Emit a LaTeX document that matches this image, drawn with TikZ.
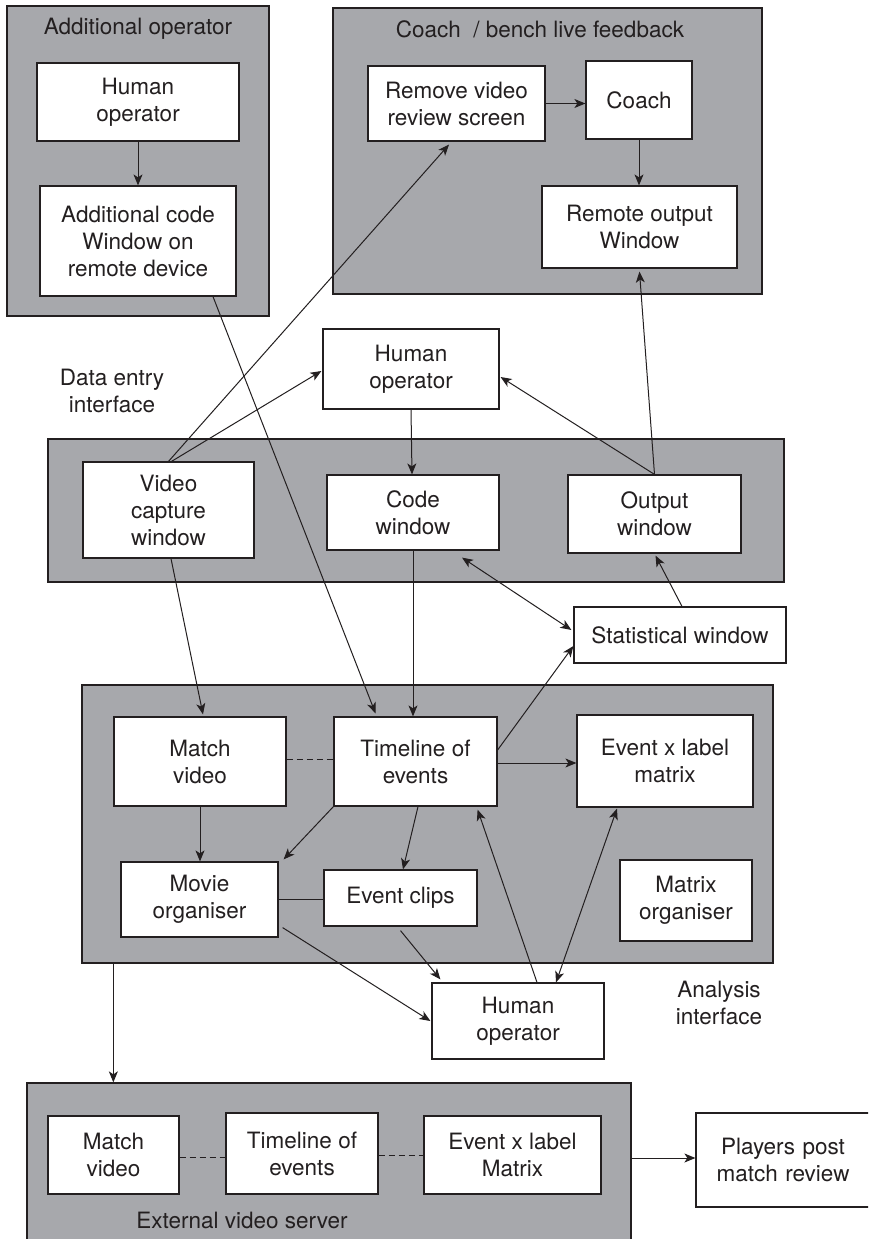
\documentclass[tikz,border=0pt]{standalone}
\usepackage{fontspec}
\setmainfont{TeX Gyre Heros}
\usetikzlibrary{arrows.meta,calc}
\definecolor{ink}{HTML}{231F20}
\definecolor{panelgray}{HTML}{A7A8AC}
\tikzset{
  panel/.style={draw=ink, fill=panelgray, line width=1.3pt, inner sep=0pt, rectangle},
  box/.style={draw=ink, fill=white, line width=1.2pt, inner sep=0pt, rectangle, align=center,
    text=ink, font=\fontsize{22.5}{27}\selectfont},
  lbl/.style={text=ink, align=center, inner sep=0pt, font=\fontsize{22.5}{27}\selectfont},
  conn/.style={draw=ink, line width=1pt},
  arr/.style={conn, -{Stealth[length=11pt,width=9pt,inset=3pt]}},
  darr/.style={conn, {Stealth[length=11pt,width=9pt,inset=3pt]}-{Stealth[length=11pt,width=9pt,inset=3pt]}},
  dashline/.style={conn, dash pattern=on 6pt off 4pt}
}
\begin{document}
\begin{tikzpicture}[x=1pt,y=-1pt]
\useasboundingbox (0,0) rectangle (868,1239);
\clip (0,0) rectangle (868,1239);
\fill[white] (0,0) rectangle (868,1239);

% panels
\node[panel, minimum width=262pt, minimum height=310pt] (addPanel) at (138,161) {};
\node[panel, minimum width=429pt, minimum height=286pt] (coachPanel) at (547.5,151) {};
\node[panel, minimum width=736pt, minimum height=143pt] (dataPanel) at (416,510.5) {};
\node[panel, minimum width=691pt, minimum height=278pt] (anaPanel) at (427.5,824) {};
\node[panel, minimum width=604pt, minimum height=170pt] (extPanel) at (329,1168) {};

% panel titles and labels
\node[lbl] (addTitle) at (138,29) {Additional operator};
\node[lbl] (coachTitle) at (540,29) {Coach \ / bench live feedback};
\node[lbl] (dataLbl) at (112,391) {Data entry\\interface};
\node[lbl] (anaLbl) at (719,1003) {Analysis\\interface};
\node[lbl] (extLbl) at (242,1220) {External video server};

% boxes
\node[box, minimum width=202pt, minimum height=78pt] (hum1) at (138,102) {Human\\operator};
\node[box, minimum width=196pt, minimum height=110pt] (addcode) at (138,241) {Additional code\\Window on\\remote device};
\node[box, minimum width=177pt, minimum height=75pt] (remvid) at (456.5,103.5) {Remove video\\review screen};
\node[box, minimum width=106pt, minimum height=78pt] (coach) at (639,100) {Coach};
\node[box, minimum width=195pt, minimum height=82pt] (remout) at (639.5,227) {Remote output\\Window};
\node[box, minimum width=176pt, minimum height=80pt] (hum2) at (411,369) {Human\\operator};
\node[box, minimum width=171pt, minimum height=96pt] (vidcap) at (168.5,510) {Video\\capture\\window};
\node[box, minimum width=172pt, minimum height=75pt] (code) at (413,512.5) {Code\\window};
\node[box, minimum width=173pt, minimum height=78pt] (output) at (654.5,514) {Output\\window};
\node[box, minimum width=212pt, minimum height=56pt] (stat) at (680,635) {Statistical window};
\node[box, minimum width=172pt, minimum height=89pt] (match1) at (200,761.5) {Match\\video};
\node[box, minimum width=163pt, minimum height=89pt] (timeline1) at (415.5,761.5) {Timeline of\\events};
\node[box, minimum width=176pt, minimum height=92pt] (evmat1) at (665,761) {Event x label\\matrix};
\node[box, minimum width=157pt, minimum height=75pt] (movie) at (199.5,899.5) {Movie\\organiser};
\node[box, minimum width=153pt, minimum height=56pt] (clips) at (400.5,898) {Event clips};
\node[box, minimum width=132pt, minimum height=81pt] (matorg) at (686,900.5) {Matrix\\organiser};
\node[box, minimum width=172pt, minimum height=76pt] (hum3) at (518,1021) {Human\\operator};
\node[box, minimum width=131pt, minimum height=78pt] (match2) at (113.5,1155) {Match\\video};
\node[box, minimum width=152pt, minimum height=81pt] (timeline2) at (302,1153.5) {Timeline of\\events};
\node[box, minimum width=177pt, minimum height=78pt] (evmat2) at (512.5,1155) {Event x label\\Matrix};
\node[box, minimum width=174pt, minimum height=94pt, text width=174pt] (players) at (783,1160) {Players post\\match review};

% connectors
\draw[arr] (hum1.south) -- (addcode.north);
\draw[arr] ([xshift=75pt]addcode.south) -- ([xshift=-40pt,yshift=3pt]timeline1.north);
\draw[arr] (vidcap.north) -- ([xshift=-7.5pt,yshift=-3pt]remvid.south);
\draw[arr] ([xshift=3pt]vidcap.north) -- ([xshift=-1pt,yshift=-2pt]hum2.west);
\draw[arr] (remvid.east) -- (remvid.east -| coach.west);
\draw[arr] (coach.south) -- (coach.south |- remout.north);
\draw[arr] (output.north) -- ([yshift=-3pt]remout.south);
\draw[arr] (output.north) -- ([xshift=1pt,yshift=-8pt]hum2.east);
\draw[arr] (hum2.south) -- ([xshift=1pt]hum2.south |- code.north);
\draw[arr] (code.south) -- (code.south |- timeline1.north);
\draw[darr] ([xshift=49pt,yshift=-7pt]code.south) -- ([xshift=-2pt,yshift=5pt]stat.west);
\draw[arr] ([xshift=2pt]stat.north) -- ([xshift=1pt,yshift=-2pt]output.south);
\draw[arr] ([yshift=11.5pt]timeline1.east) -- ([yshift=-11pt]stat.west);
\draw[arr] ([yshift=-1.5pt]timeline1.east) -- ([yshift=-1.5pt]timeline1.east -| evmat1.west);
\draw[arr] ([xshift=2.5pt]vidcap.south) -- ([xshift=3pt,yshift=2pt]match1.north);
\draw[dashline] ([yshift=2.5pt]match1.east) -- ([yshift=2.5pt]match1.east -| timeline1.west);
\draw[arr] (match1.south) -- (match1.south |- movie.north);
\draw[arr] (timeline1.south west) -- ([xshift=5pt,yshift=2pt]movie.north east);
\draw[arr] ([xshift=2.5pt]timeline1.south) -- ([xshift=2.5pt]clips.north);
\draw[conn] (movie.east) -- (movie.east -| clips.west);
\draw[arr] ([xshift=4pt,yshift=10pt]movie.south east) -- ([xshift=-1pt]hum3.west);
\draw[arr] ([yshift=-4pt]clips.south) -- ([xshift=9pt,yshift=3pt]hum3.north west);
\draw[arr] ([xshift=19pt]hum3.north) -- ([xshift=-20pt,yshift=-3pt]timeline1.south east);
\draw[darr] ([xshift=38pt]hum3.north) -- ([xshift=-48pt,yshift=-1pt]evmat1.south);
\draw[arr] ([xshift=32pt]anaPanel.south west) -- ([xshift=32pt]anaPanel.south west |- extPanel.north);
\draw[dashline] ([yshift=-2pt]match2.east) -- ([yshift=-2pt]match2.east -| timeline2.west);
\draw[dashline] ([yshift=-2pt]timeline2.east) -- ([yshift=-2pt]timeline2.east -| evmat2.west);
\draw[arr] ([yshift=2pt]players.west -| extPanel.east) -- ([yshift=2pt]players.west);
\end{tikzpicture}
\end{document}
